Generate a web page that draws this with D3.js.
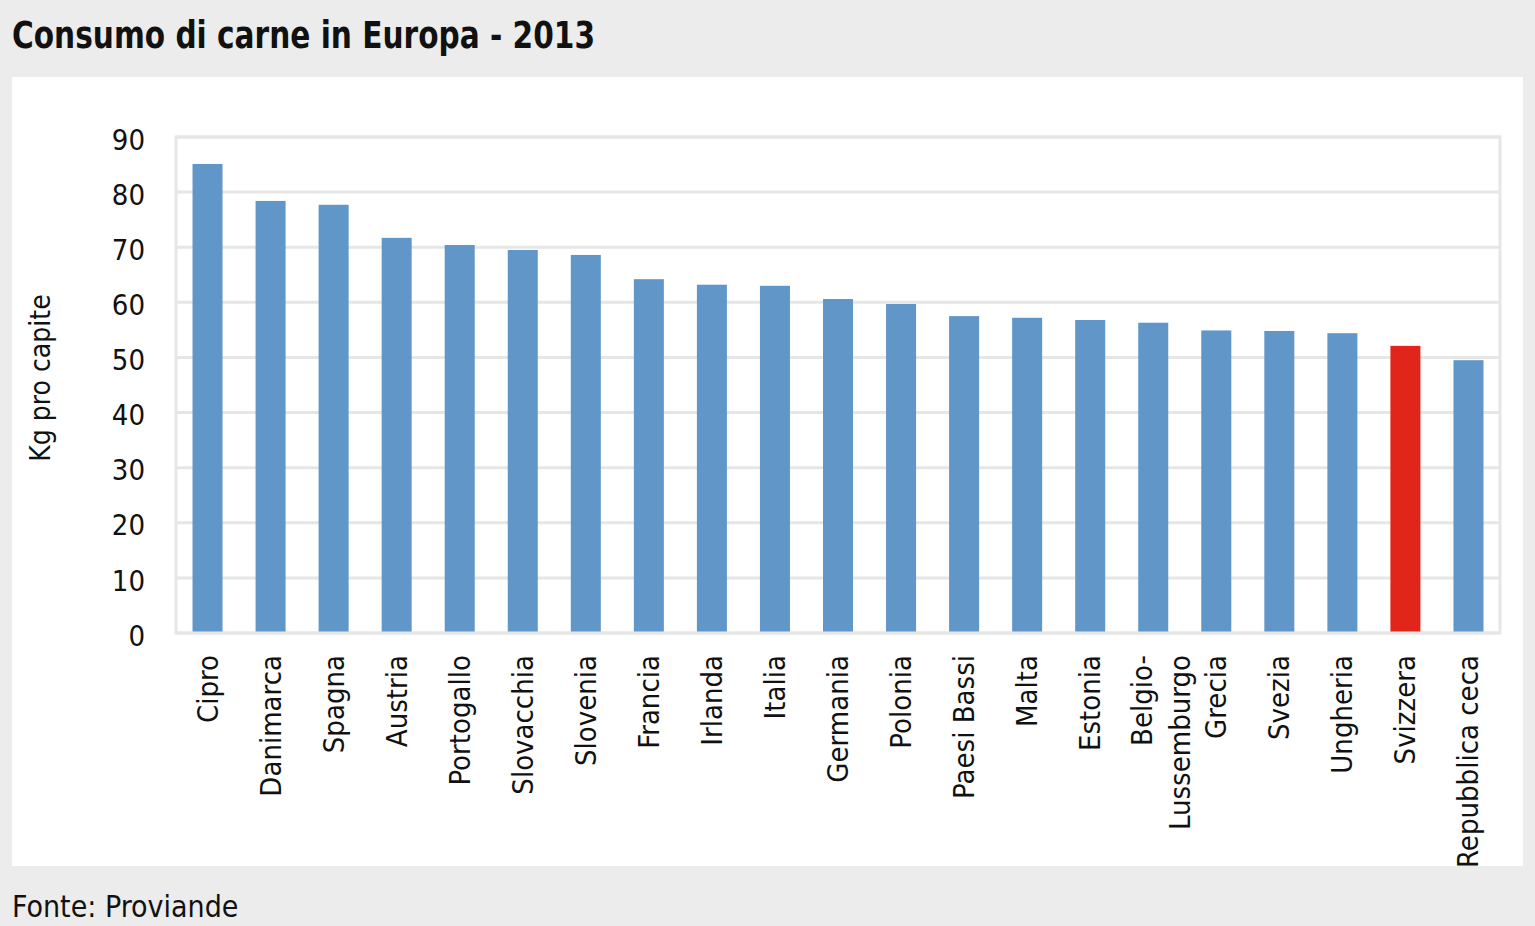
<!DOCTYPE html>
<html lang="it">
<head>
<meta charset="UTF-8">
<title>Consumo di carne in Europa - 2013</title>
<style>
    body { margin: 0; background: #ececec; }
    svg { display: block; }
    text { font-family: "Liberation Sans Narrow", "DejaVu Sans Condensed", "Roboto Condensed", sans-serif; fill: #111; }
</style>
<script src="https://cdn.jsdelivr.net/npm/d3@7"></script>
</head>
<body>
<script>
    // dati
    const paesi = ["Cipro", "Danimarca", "Spagna", "Austria", "Portogallo", "Slovacchia", "Slovenia",
        "Francia", "Irlanda", "Italia", "Germania", "Polonia", "Paesi Bassi", "Malta", "Estonia",
        "Belgio-Lussemburgo", "Grecia", "Svezia", "Ungheria", "Svizzera", "Repubblica ceca"]
    const consumo = [85.1, 78.4, 77.7, 71.7, 70.4, 69.5, 68.6, 64.2, 63.2, 63.0, 60.6, 59.7,
        57.5, 57.2, 56.8, 56.3, 54.9, 54.8, 54.4, 52.1, 49.5]
    const evidenziato = "Svizzera"
    const yTicks = [0, 10, 20, 30, 40, 50, 60, 70, 80, 90]

    const width = 1535
    const height = 926
    const plot = {left: 176, right: 1500, top: 137, bottom: 633}

    let svg = d3.select("body").append("svg")
        .attr("width", width)
        .attr("height", height)

    // pannello bianco
    svg.append("rect")
        .attr("x", 12).attr("y", 77)
        .attr("width", 1511).attr("height", 789)
        .attr("fill", "#fff")

    svg.append("text")
        .attr("x", 12).attr("y", 48)
        .attr("font-size", 37)
        .attr("font-weight", "bold")
        .attr("textLength", 583)
        .attr("lengthAdjust", "spacingAndGlyphs")
        .text("Consumo di carne in Europa - 2013")

    svg.append("text")
        .attr("x", 12).attr("y", 917)
        .attr("font-size", 30)
        .text("Fonte: Proviande")

    let x = d3.scaleBand()
        .domain(paesi)
        .range([plot.left, plot.right])
        .paddingInner(0.524)
        .paddingOuter(0.262)

    let y = d3.scaleLinear()
        .domain([0, 90])
        .range([plot.bottom, plot.top])

    // griglia
    svg.append("g")
        .selectAll("line")
        .data(yTicks)
        .enter()
        .append("line")
        .attr("x1", plot.left).attr("x2", plot.right)
        .attr("y1", d => y(d)).attr("y2", d => y(d))
        .attr("stroke", "#e6e6e6")
        .attr("stroke-width", 3)

    svg.append("rect")
        .attr("x", plot.left).attr("y", plot.top)
        .attr("width", plot.right - plot.left)
        .attr("height", plot.bottom - plot.top)
        .attr("fill", "none")
        .attr("stroke", "#e6e6e6")
        .attr("stroke-width", 3)

    // asse y
    let yAxis = svg.append("g")
        .attr("transform", `translate(${plot.left},0)`)
        .call(d3.axisLeft(y).tickValues(yTicks).tickSize(0).tickPadding(31))
    yAxis.select(".domain").remove()
    yAxis.selectAll("text")
        .attr("font-size", 29)
        .attr("dy", "0.42em")
        .attr("fill", "#111")
        .style("font-family", "\"Liberation Sans Narrow\", \"DejaVu Sans Condensed\", sans-serif")

    svg.append("text")
        .attr("transform", `translate(50,378) rotate(-90)`)
        .attr("text-anchor", "middle")
        .attr("font-size", 28)
        .text("Kg pro capite")

    // barre
    svg.append("g")
        .selectAll("rect")
        .data(paesi)
        .enter()
        .append("rect")
        .attr("x", d => x(d))
        .attr("width", x.bandwidth())
        .attr("y", (d, i) => y(consumo[i]))
        .attr("height", (d, i) => y(0) - y(consumo[i]) - 1.5)
        .attr("fill", d => d == evidenziato ? "#e2251b" : "#6196c9")

    // etichette categorie
    let labels = svg.append("g")
        .selectAll("text")
        .data(paesi)
        .enter()
        .append("text")
        .attr("transform", d => `translate(${x(d) + x.bandwidth() / 2},655) rotate(-90)`)
        .attr("text-anchor", "end")
        .attr("font-size", 29)

    labels.each(function (d) {
        let t = d3.select(this)
        if (d == "Belgio-Lussemburgo") {
            t.append("tspan").attr("x", 0).attr("y", -1).text("Belgio-")
            t.append("tspan").attr("x", 0).attr("y", 37).text("Lussemburgo")
        } else {
            t.append("tspan").attr("x", 0).attr("y", 10).text(d)
        }
    })
</script>
</body>
</html>
